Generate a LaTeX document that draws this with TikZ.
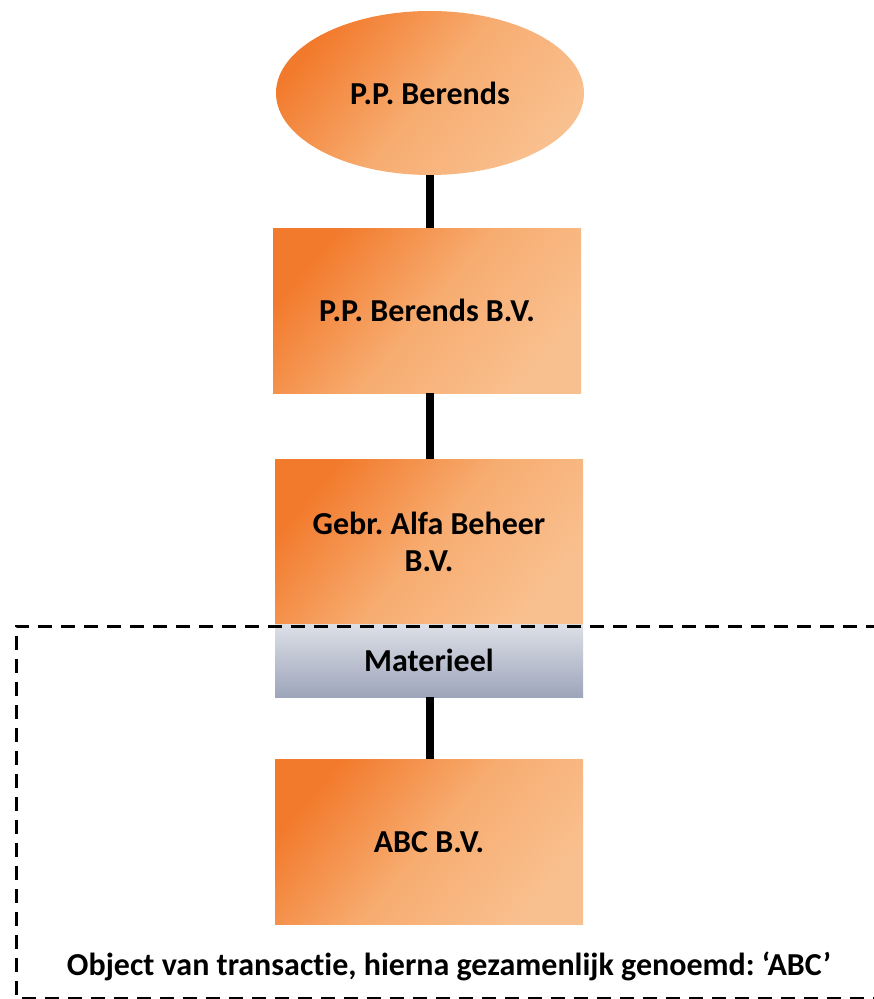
\documentclass[tikz,border=0pt]{standalone}
\usepackage{fontspec}
\setmainfont{Carlito}[Ligatures={NoCommon}]
\usetikzlibrary{shapes.geometric}
\definecolor{ordark}{HTML}{F27A2C}
\definecolor{ormid}{HTML}{F7AC70}
\definecolor{orlight}{HTML}{F9C08F}
\definecolor{gtop}{HTML}{DDE0E7}
\definecolor{gbot}{HTML}{9DA5BB}
\frenchspacing
\tikzset{
  orbox/.style={draw=none, shading=axis, top color=ordark, bottom color=orlight, middle color=ormid, shading angle=50,
    minimum width=308pt, minimum height=165pt, inner sep=0pt, align=center,
    font=\fontsize{32}{37}\selectfont\bfseries},
  grbox/.style={draw=none, top color=gtop, bottom color=gbot,
    minimum width=308pt, minimum height=73pt, inner sep=0pt,
    font=\fontsize{32}{37}\selectfont\bfseries},
  conn/.style={line width=8pt, black},
  dashbox/.style={line width=3pt, dash pattern=on 14pt off 9pt}
}
\begin{document}
\begin{tikzpicture}[x=1pt,y=-1pt]
\useasboundingbox (0,0) rectangle (874,999);
\clip (0,0) rectangle (874,999);
\node[orbox, ellipse, minimum width=308pt, minimum height=164pt] (pp) at (430,93) {P.P. Berends};
\node[orbox] (ppbv) at (427,310.5) {P.P. Berends B.V.};
\node[orbox] (gebr) at (429,541.5) {Gebr. Alfa Beheer\\B.V.};
\node[grbox] (mat) at (429,660.5) {Materieel};
\node[orbox] (abc) at (429,842) {ABC B.V.};
\draw[conn] (pp.south -| 430,0) -- (ppbv.north -| 430,0);
\draw[conn] (ppbv.south -| 430,0) -- (gebr.north -| 430,0);
\draw[conn] (mat.south -| 430,0) -- (abc.north -| 430,0);
\draw[dashbox] (880,626) -- (16,626) -- (16,998) -- (880,998);
\node[font=\fontsize{32}{36}\selectfont\bfseries] (obj) at (449,966) {Object van transactie, hierna gezamenlijk genoemd: ‘ABC’};
\end{tikzpicture}
\end{document}
